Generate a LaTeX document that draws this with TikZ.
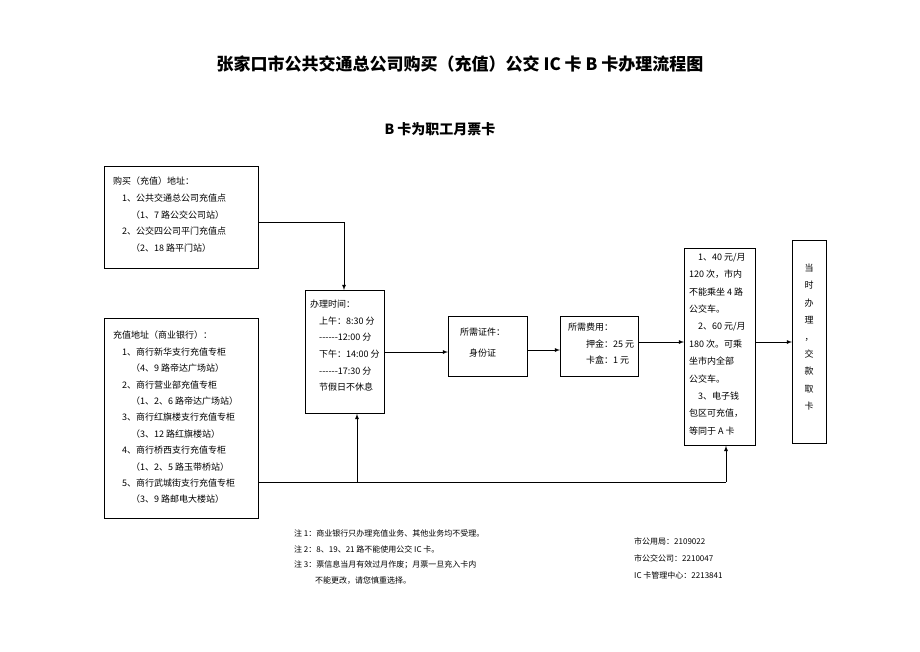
\documentclass[tikz,border=0pt]{standalone}
\usepackage{fontspec}
\setmainfont{Noto Sans CJK SC}
\newcommand{\sixdash}{-{}-{}-{}-{}-{}-}
\begin{document}
\begin{tikzpicture}[x=1pt,y=-1pt,
 box/.style={draw,line width=0.8pt,anchor=north west,inner sep=0pt},
 txt/.style={anchor=north west,align=left,inner sep=0pt,font=\fontsize{9}{16.6}\selectfont},
 arr/.style={-latex,line width=0.8pt}]
\useasboundingbox (0,0) rectangle (920,651);
\node[font=\fontsize{17}{20}\selectfont\bfseries] (title) at (460,64) {张家口市公共交通总公司购买（充值）公交 IC 卡 B 卡办理流程图};
\node[font=\fontsize{14}{16}\selectfont\bfseries] (sub) at (440,129) {B 卡为职工月票卡};
\node[box,minimum width=154pt,minimum height=102pt] (buy) at (104,166) {};
\node[txt] (buyt) at (113,177) {购买（充值）地址：\\\quad 1、公共交通总公司充值点\\\qquad（1、7 路公交公司站）\\\quad 2、公交四公司平门充值点\\\qquad（2、18 路平门站）};
\node[box,minimum width=154pt,minimum height=200pt] (bank) at (104,318) {};
\node[txt,font=\fontsize{9}{16.4}\selectfont] (bankt) at (113,331) {充值地址（商业银行）：\\\quad 1、商行新华支行充值专柜\\\qquad（4、9 路帝达广场站）\\\quad 2、商行营业部充值专柜\\\qquad（1、2、6 路帝达广场站）\\\quad 3、商行红旗楼支行充值专柜\\\qquad（3、12 路红旗楼站）\\\quad 4、商行桥西支行充值专柜\\\qquad（1、2、5 路玉带桥站）\\\quad 5、商行武城街支行充值专柜\\\qquad（3、9 路邮电大楼站）};
\node[box,minimum width=79pt,minimum height=123pt] (time) at (305,290) {};
\node[txt] (timet) at (310,300) {办理时间：\\\quad 上午：8:30 分\\\quad \sixdash 12:00 分\\\quad 下午：14:00 分\\\quad \sixdash 17:30 分\\\quad 节假日不休息};
\node[box,minimum width=79pt,minimum height=60pt] (id) at (448,316) {};
\node[txt,font=\fontsize{9}{21}\selectfont] (idt) at (460,328) {所需证件：\\\quad 身份证};
\node[box,minimum width=78pt,minimum height=60pt] (fee) at (560,316) {};
\node[txt] (feet) at (568,323) {所需费用：\\\qquad 押金：25 元\\\qquad 卡盒：1 元};
\node[box,minimum width=71pt,minimum height=197pt] (tk) at (684,248) {};
\node[txt,font=\fontsize{9}{17.4}\selectfont] (tkt) at (689,253) {\quad 1、40 元/月\\120 次，市内\\不能乘坐 4 路\\公交车。\\\quad 2、60 元/月\\180 次。可乘\\坐市内全部\\公交车。\\\quad 3、电子钱\\包区可充值，\\等同于 A 卡};
\node[box,minimum width=34pt,minimum height=203pt] (last) at (792,240) {};
\node[font=\fontsize{9}{17.2}\selectfont,align=center,inner sep=0pt,anchor=north] (lastt) at (809,264) {当\\时\\办\\理\\，\\交\\款\\取\\卡};
\coordinate (c1) at (344,222);
\coordinate (c2) at (357,482);
\coordinate (c3) at (726,482);
\draw[arr] (buy.east |- c1) -- (c1) -- (time.north -| c1);
\draw[line width=0.8pt] (bank.east |- c2) -- (c3);
\draw[arr] (c2) -- (time.south -| c2);
\draw[arr] (c3) -- (tk.south -| c3);
\draw[arr] (time.east |- 0,352) -- (id.west |- 0,352);
\draw[arr] (id.east |- 0,350) -- (fee.west |- 0,350);
\draw[arr] (fee.east |- 0,342) -- (tk.west |- 0,342);
\draw[arr] (tk.east |- 0,342) -- (last.west |- 0,342);
\node[txt,font=\fontsize{8}{15.5}\selectfont] (notes) at (294,530) {注 1：商业银行只办理充值业务、其他业务均不受理。\\注 2：8、19、21 路不能使用公交 IC 卡。\\注 3：票信息当月有效过月作废；月票一旦充入卡内\\\hspace*{2.6em}不能更改，请您慎重选择。};
\node[txt,font=\fontsize{8}{17}\selectfont] (tel) at (634,538) {市公用局：2109022\\市公交公司：2210047\\IC 卡管理中心：2213841};
\end{tikzpicture}
\end{document}
